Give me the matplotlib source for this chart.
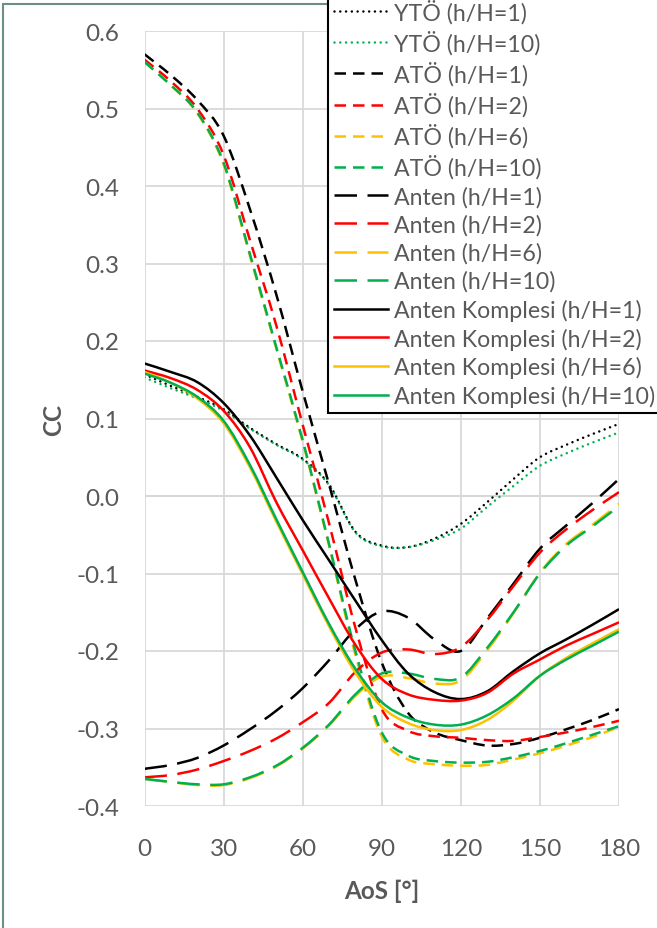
import matplotlib
matplotlib.use("Agg")
import matplotlib.pyplot as plt
import numpy as np
from matplotlib.lines import Line2D
from matplotlib.patches import PathPatch, Rectangle
from matplotlib.path import Path

# AoS angles [deg]
aos = [0, 10, 20, 30, 40, 50, 60, 70, 80, 90, 100, 110, 120, 130, 140, 150, 160, 170, 180]

# YTÖ (dotted)
yto_1 = [0.157, 0.142, 0.128, 0.112, 0.088, 0.067, 0.048, 0.015, -0.046, -0.064, -0.066, -0.055, -0.036,
         -0.008, 0.022, 0.050, 0.066, 0.080, 0.093]
yto_10 = [0.153, 0.139, 0.126, 0.110, 0.087, 0.066, 0.047, 0.014, -0.047, -0.065, -0.066, -0.057, -0.042,
          -0.014, 0.013, 0.039, 0.055, 0.069, 0.082]

# ATÖ (short dash)
ato_1 = [0.570, 0.543, 0.511, 0.465, 0.370, 0.260, 0.135, 0.015, -0.108, -0.215, -0.280, -0.305, -0.315,
         -0.322, -0.320, -0.312, -0.301, -0.289, -0.275]
ato_2 = [0.563, 0.535, 0.500, 0.440, 0.330, 0.220, 0.092, -0.035, -0.170, -0.275, -0.303, -0.310, -0.312,
         -0.315, -0.316, -0.311, -0.305, -0.298, -0.290]
ato_6 = [0.560, 0.530, 0.494, 0.428, 0.310, 0.190, 0.070, -0.064, -0.205, -0.310, -0.340, -0.346, -0.348,
         -0.347, -0.340, -0.332, -0.322, -0.311, -0.298]
ato_10 = [0.560, 0.530, 0.495, 0.430, 0.312, 0.192, 0.072, -0.062, -0.200, -0.305, -0.335, -0.342, -0.344,
          -0.343, -0.337, -0.329, -0.319, -0.308, -0.297]

# Anten (long dash)
anten_1 = [-0.352, -0.347, -0.338, -0.322, -0.301, -0.277, -0.248, -0.212, -0.172, -0.149, -0.157, -0.185,
           -0.200, -0.158, -0.113, -0.068, -0.038, -0.009, 0.022]
anten_2 = [-0.363, -0.360, -0.353, -0.342, -0.329, -0.313, -0.292, -0.267, -0.227, -0.202, -0.198, -0.204,
           -0.195, -0.160, -0.116, -0.073, -0.043, -0.018, 0.005]
anten_6 = [-0.365, -0.369, -0.373, -0.373, -0.364, -0.349, -0.326, -0.296, -0.258, -0.233, -0.235, -0.242,
           -0.238, -0.199, -0.151, -0.099, -0.062, -0.037, -0.010]
anten_10 = [-0.365, -0.369, -0.372, -0.372, -0.363, -0.348, -0.325, -0.295, -0.256, -0.229, -0.229, -0.236,
            -0.234, -0.196, -0.150, -0.100, -0.064, -0.039, -0.013]

# Anten Komplesi (solid)
komp_1 = [0.171, 0.160, 0.147, 0.120, 0.078, 0.024, -0.031, -0.083, -0.135, -0.186, -0.229, -0.253, -0.262,
          -0.252, -0.226, -0.203, -0.185, -0.166, -0.146]
komp_2 = [0.162, 0.152, 0.137, 0.110, 0.063, -0.008, -0.070, -0.132, -0.192, -0.236, -0.256, -0.263, -0.264,
          -0.254, -0.229, -0.211, -0.193, -0.178, -0.163]
komp_6 = [0.160, 0.146, 0.126, 0.094, 0.037, -0.033, -0.101, -0.168, -0.228, -0.272, -0.293, -0.302, -0.302,
          -0.289, -0.264, -0.232, -0.209, -0.190, -0.172]
komp_10 = [0.158, 0.146, 0.128, 0.097, 0.040, -0.030, -0.098, -0.165, -0.223, -0.266, -0.286, -0.295, -0.295,
           -0.283, -0.261, -0.232, -0.211, -0.193, -0.175]

BLACK, RED, YELLOW, GREEN = "#000000", "#FF0000", "#FFC000", "#00B050"
GRAY = "#595959"
LW = 1.8
DOT = (0, (0.01, 2.3))
SHORT = (0, (4.6, 2.8))
LONG = (0, (9.0, 4.2))

series = [
    ("YTÖ (h/H=1)", yto_1, BLACK, DOT),
    ("YTÖ (h/H=10)", yto_10, GREEN, DOT),
    ("ATÖ (h/H=1)", ato_1, BLACK, SHORT),
    ("ATÖ (h/H=2)", ato_2, RED, SHORT),
    ("ATÖ (h/H=6)", ato_6, YELLOW, SHORT),
    ("ATÖ (h/H=10)", ato_10, GREEN, SHORT),
    ("Anten (h/H=1)", anten_1, BLACK, LONG),
    ("Anten (h/H=2)", anten_2, RED, LONG),
    ("Anten (h/H=6)", anten_6, YELLOW, LONG),
    ("Anten (h/H=10)", anten_10, GREEN, LONG),
    ("Anten Komplesi (h/H=1)", komp_1, BLACK, "-"),
    ("Anten Komplesi (h/H=2)", komp_2, RED, "-"),
    ("Anten Komplesi (h/H=6)", komp_6, YELLOW, "-"),
    ("Anten Komplesi (h/H=10)", komp_10, GREEN, "-"),
]


def smooth_path(x, y):
    # Excel-style smoothed line: cubic Bezier through the points (Catmull-Rom tangents)
    p = np.column_stack([x, y]).astype(float)
    n = len(p)
    verts, codes = [p[0]], [Path.MOVETO]
    for i in range(n - 1):
        p0 = p[i - 1] if i > 0 else p[i]
        p3 = p[i + 2] if i + 2 < n else p[i + 1]
        verts += [p[i] + (p[i + 1] - p0) / 6, p[i + 1] - (p3 - p[i]) / 6, p[i + 1]]
        codes += [Path.CURVE4] * 3
    return Path(verts, codes)


plt.rcParams["font.family"] = ["Lato", "DejaVu Sans"]
plt.rcParams["axes.unicode_minus"] = False

fig = plt.figure(figsize=(6.57, 9.29), dpi=100)
ax = fig.add_axes([144.5 / 657, 1 - 807 / 929, (619 - 144.5) / 657, (807 - 32) / 929])

handles = []
for label, vals, color, ls in series:
    cap = "round" if ls == DOT else "butt"
    ax.add_patch(PathPatch(smooth_path(aos, vals), fill=False, edgecolor=color, ls=ls, lw=LW,
                           capstyle=cap, joinstyle="round", zorder=3))
    handles.append(Line2D([], [], color=color, ls=ls, lw=LW, dash_capstyle=cap, label=label))

ax.set_xlim(0, 180)
ax.set_ylim(-0.4, 0.6)
ax.set_xticks(range(0, 181, 30))
ax.set_yticks([i / 10 for i in range(-4, 7)])
ax.set_yticklabels([f"{i / 10:.1f}" for i in range(-4, 7)])
ax.grid(True, color="#D9D9D9", lw=1.3, zorder=0)
ax.axhline(0, color="#BFBFBF", lw=1.3, zorder=1)
for s in ax.spines.values():
    s.set_visible(False)
ax.tick_params(length=0, labelsize=17.5, labelcolor=GRAY)
ax.tick_params(axis="y", pad=18)
ax.tick_params(axis="x", pad=23)
ax.set_xlabel("AoS [°]", fontsize=17.5, fontweight="bold", color=GRAY, labelpad=14)
ax.set_ylabel("CC", fontsize=17.5, fontweight="bold", color=GRAY, labelpad=8)

leg = fig.legend(handles=handles, loc="upper left", bbox_to_anchor=(328 / 657, 1 + 6 / 929), fontsize=16.7,
                 frameon=True, fancybox=False, edgecolor="black", framealpha=1,
                 handlelength=2.35, handletextpad=0.25, labelspacing=0.29, borderpad=0.25,
                 borderaxespad=0)
leg.get_frame().set_linewidth(1.5)
for t in leg.get_texts():
    t.set_color(GRAY)

# outer chart border (right/bottom edges fall outside the image)
fig.patches.append(Rectangle((3 / 657, -0.05), 1.1, 1 - 5 / 929 + 0.05, transform=fig.transFigure,
                             fill=False, edgecolor="#6B8F86", lw=1.5, clip_on=False, zorder=-1))

fig.savefig("out.png", dpi=100)
